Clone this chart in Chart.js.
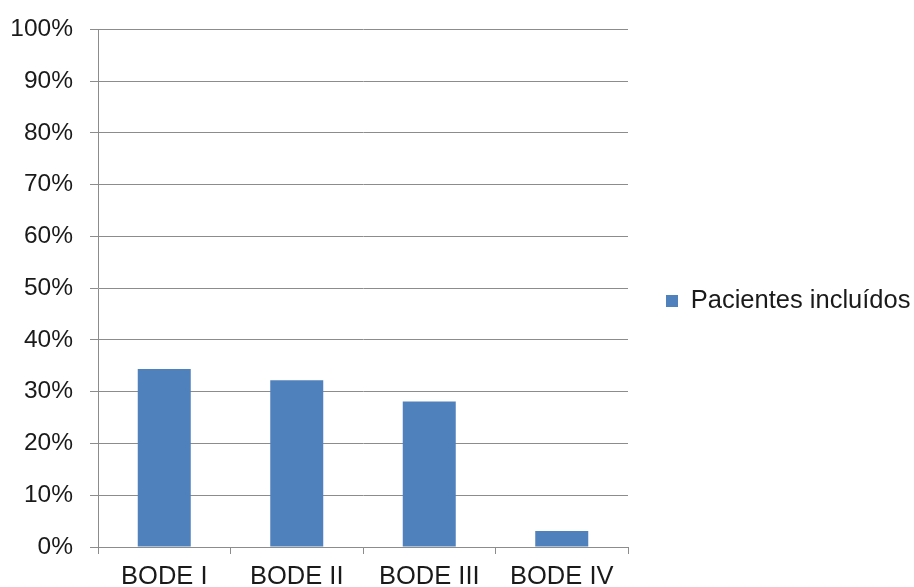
<!DOCTYPE html>
<html>
<head>
<meta charset="utf-8">
<script src="https://cdn.jsdelivr.net/npm/chart.js@4/dist/chart.umd.min.js"></script>
<style>
html,body{margin:0;padding:0;background:#fff;}
#wrap{width:914px;height:587px;position:relative;}
</style>
</head>
<body>
<div id="wrap"><canvas id="c" width="914" height="587"></canvas></div>
<script>
const categories = ["BODE I", "BODE II", "BODE III", "BODE IV"];
const seriesName = "Pacientes incluídos";
const seriesValues = [34.4, 32.2, 28.1, 3.1];
const yTicks = [0, 10, 20, 30, 40, 50, 60, 70, 80, 90, 100];

const gridColor = "#8c8c8c";
const textColor = "#1a1a1a";
Chart.defaults.font.family = "'Liberation Sans', Arial, sans-serif";

const legendWidthPlugin = {
  id: "legendWidth",
  beforeLayout(chart) {
    const lg = chart.legend;
    if (lg && !lg._wrappedFit) {
      const orig = lg.fit.bind(lg);
      lg.fit = function () { orig(); this.width = 286; };
      lg._wrappedFit = true;
    }
  }
};

new Chart(document.getElementById("c"), {
  type: "bar",
  data: {
    labels: categories,
    datasets: [{
      label: seriesName,
      data: seriesValues,
      backgroundColor: "#4f81bd",
      borderWidth: 0,
      categoryPercentage: 1,
      barPercentage: 0.4
    }]
  },
  plugins: [legendWidthPlugin],
  options: {
    responsive: false,
    animation: false,
    layout: { padding: { top: 15, left: 0, right: 0, bottom: 0 } },
    plugins: {
      tooltip: { enabled: false },
      legend: {
        position: "right",
        labels: {
          boxWidth: 12,
          boxHeight: 12,
          padding: 38,
          color: textColor,
          font: { size: 25.5 }
        }
      }
    },
    scales: {
      x: {
        offset: true,
        afterFit: (scale) => { scale.height = 40; },
        border: { display: true, color: gridColor, width: 1 },
        grid: {
          display: true,
          offset: true,
          drawOnChartArea: false,
          drawTicks: true,
          tickLength: 7,
          color: gridColor
        },
        ticks: { color: textColor, font: { size: 25.5, lineHeight: 1 }, padding: 10 }
      },
      y: {
        min: 0,
        max: 100,
        afterFit: (scale) => { scale.width = 98; },
        afterBuildTicks: (axis) => { axis.ticks = yTicks.map(v => ({ value: v })); },
        border: { display: true, color: gridColor, width: 1 },
        grid: { color: gridColor, tickLength: 8, lineWidth: 1 },
        ticks: {
          color: textColor,
          font: { size: 24.5, lineHeight: 1 },
          padding: 17,
          callback: (v) => v + "%"
        }
      }
    }
  }
});
</script>
</body>
</html>
